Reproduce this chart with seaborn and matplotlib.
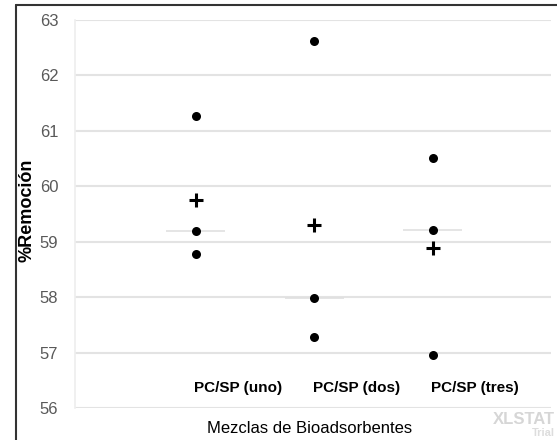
import numpy as np
import pandas as pd
import matplotlib
matplotlib.use('Agg')
import matplotlib.pyplot as plt
from matplotlib.lines import Line2D
import seaborn as sns

# datos
mezclas = ['PC/SP (uno)', 'PC/SP (dos)', 'PC/SP (tres)']
remocion_uno = [61.27, 59.19, 58.78]
remocion_dos = [62.62, 57.98, 57.28]
remocion_tres = [60.51, 59.21, 56.95]
y_ticks = [56, 57, 58, 59, 60, 61, 62, 63]

sns.set_style('white')
plt.rcParams['font.family'] = ['Liberation Sans', 'DejaVu Sans']

df = pd.DataFrame({
    'mezcla': np.repeat(mezclas, 3),
    'remocion': remocion_uno + remocion_dos + remocion_tres,
})

fig = plt.figure(figsize=(5.57, 4.40), dpi=100)
ax = fig.add_axes([75 / 557, 32 / 440, 476 / 557, 388 / 440])

ax.set_ylim(56, 63)
ax.set_yticks(y_ticks)
ax.yaxis.grid(True, color='#e3e3e3', linewidth=1.5)
ax.set_axisbelow(True)

# medianas (línea gris corta)
stats = df.groupby('mezcla', sort=False)['remocion']
medianas = stats.median()
medias = stats.mean()
for i, m in enumerate(mezclas):
    ax.hlines(medianas[m], i - 0.25, i + 0.25, color='#e0e0e0', linewidth=1.2, zorder=2)

sns.stripplot(data=df, x='mezcla', y='remocion', jitter=False, color='black',
              size=6.5, ax=ax, zorder=4)
sns.scatterplot(x=list(range(len(mezclas))), y=medias[mezclas].values, marker='+',
                s=110, color='black', linewidth=2.2, ax=ax, zorder=5)

ax.set_xlim(-1.02, 3.0)
ax.set_xticks([])
ax.set_xlabel('')
ax.set_ylabel('')

# etiquetas de categoría dentro del área
for i, m in enumerate(mezclas):
    ax.text(i + 0.36, 56.36, m, ha='center', va='center', fontsize=11,
            fontweight='bold', color='black')

ax.tick_params(axis='y', length=0, labelsize=12, labelcolor='#595959', pad=12)
for s in ['top', 'right', 'bottom']:
    ax.spines[s].set_visible(False)
ax.spines['left'].set_color('#eeeeee')
ax.spines['left'].set_linewidth(1.2)

fig.text(27 / 557, 1 - 210 / 440, '%Remoción', rotation=90, ha='center', va='center',
         fontsize=13, fontweight='bold', color='black')
fig.text(310 / 557, 1 - 428 / 440, 'Mezclas de Bioadsorbentes', ha='center', va='center',
         fontsize=12, color='black')

# marca de agua
fig.text(555 / 557, 1 - 419 / 440, 'XLSTAT', ha='right', va='center', fontsize=12,
         fontweight='bold', color='#d6d6d6')
fig.text(555 / 557, 1 - 433 / 440, 'Trial', ha='right', va='center', fontsize=8,
         fontweight='bold', color='#dddddd')

# marco
fig.add_artist(Line2D([16 / 557, 16 / 557], [0, 1 - 5 / 440], color='#333333', linewidth=1.5))
fig.add_artist(Line2D([16 / 557, 1], [1 - 5 / 440, 1 - 5 / 440], color='#333333', linewidth=1.5))

fig.savefig('out.png', dpi=100)
